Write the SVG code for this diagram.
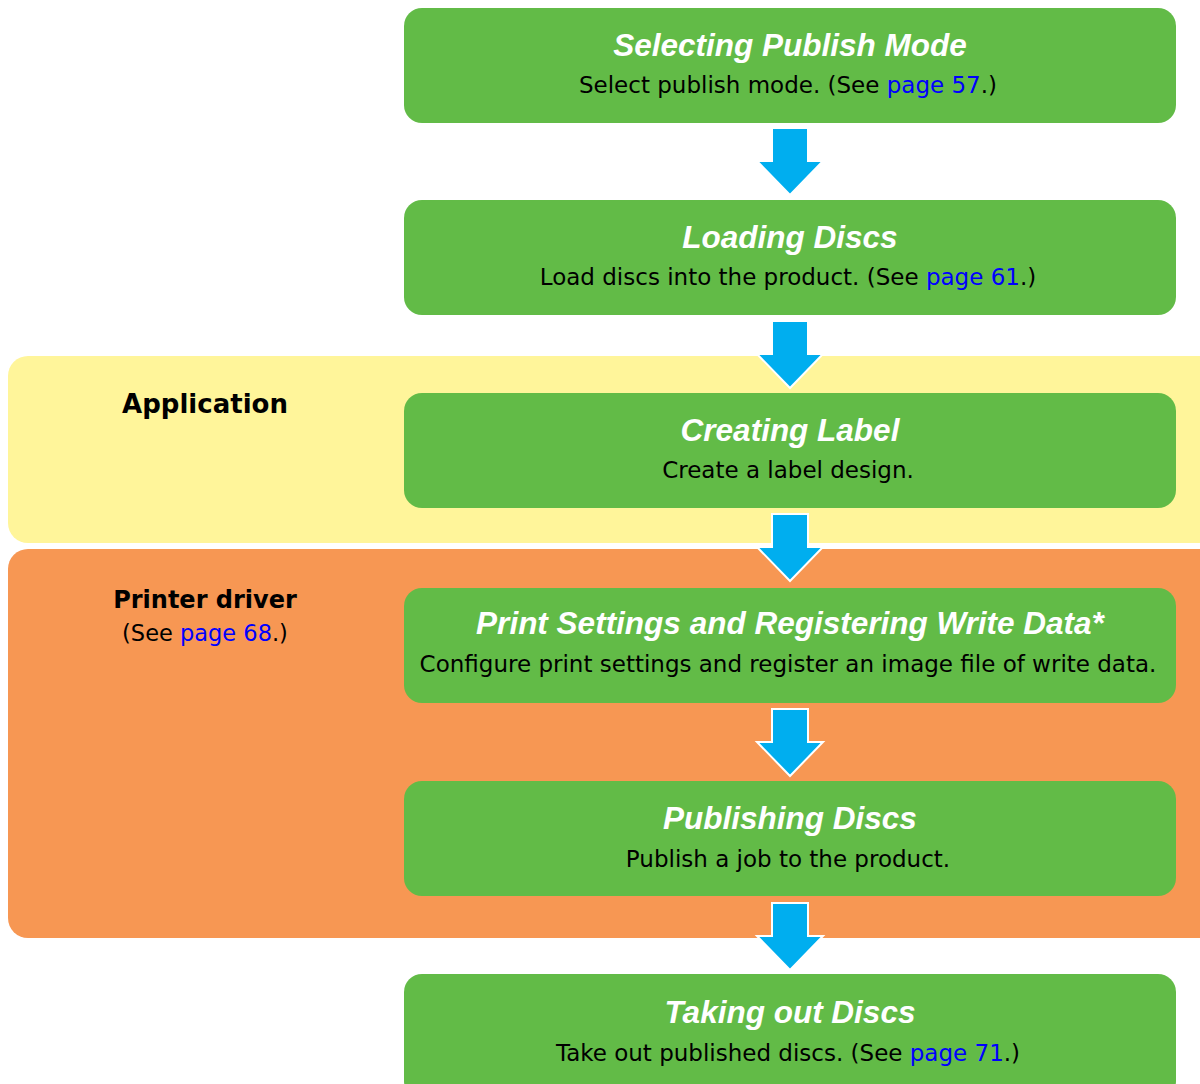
<svg xmlns="http://www.w3.org/2000/svg" width="1200" height="1084" viewBox="0 0 1200 1084">
<style>
.box{fill:#62bb47;}
.t{font-family:"Liberation Sans",Arial,sans-serif;font-size:31.5px;font-weight:bold;font-style:italic;fill:#fff;text-anchor:middle;}
.s{font-family:"DejaVu Sans",sans-serif;font-size:23px;fill:#000;text-anchor:middle;}
.lk{fill:#0000ff;}
.lab{font-family:"DejaVu Sans",sans-serif;font-size:26px;font-weight:bold;fill:#000;text-anchor:middle;}
.arr{fill:#00aeef;stroke:#fff;stroke-width:2;}
</style>
<defs>
<path id="arrow" d="M-18,0 H18 V33 H33 L0,67 L-33,33 H-18 Z"/>
</defs>
<rect width="1200" height="1084" fill="#fff"/>
<g id="band-application">
<rect x="8" y="356" width="1212" height="187" rx="20" fill="#fff59a"/>
<text class="lab" x="205" y="413">Application</text>
</g>
<g id="band-printer-driver">
<rect x="8" y="549" width="1212" height="389" rx="20" fill="#f79753"/>
<text class="lab" x="205" y="608" style="font-size:24px">Printer driver</text>
<text class="s" x="205" y="641" style="font-size:22.5px">(See <tspan class="lk">page 68</tspan>.)</text>
</g>
<g id="node1">
<rect class="box" x="404" y="8" width="772" height="115" rx="18"/>
<text class="t" x="790" y="56">Selecting Publish Mode</text>
<text class="s" x="788" y="93">Select publish mode. (See <tspan class="lk">page 57</tspan>.)</text>
</g>
<g id="node2">
<rect class="box" x="404" y="200" width="772" height="115" rx="18"/>
<text class="t" x="790" y="248">Loading Discs</text>
<text class="s" x="788" y="285">Load discs into the product. (See <tspan class="lk">page 61</tspan>.)</text>
</g>
<g id="node3">
<rect class="box" x="404" y="393" width="772" height="115" rx="18"/>
<text class="t" x="790" y="441">Creating Label</text>
<text class="s" x="788" y="478">Create a label design.</text>
</g>
<g id="node4">
<rect class="box" x="404" y="588" width="772" height="115" rx="18"/>
<text class="t" x="790" y="634">Print Settings and Registering Write Data*</text>
<text class="s" x="788" y="672">Configure print settings and register an image file of write data.</text>
</g>
<g id="node5">
<rect class="box" x="404" y="781" width="772" height="115" rx="18"/>
<text class="t" x="790" y="829">Publishing Discs</text>
<text class="s" x="788" y="867">Publish a job to the product.</text>
</g>
<g id="node6">
<rect class="box" x="404" y="974" width="772" height="125" rx="18"/>
<text class="t" x="790" y="1023">Taking out Discs</text>
<text class="s" x="788" y="1061">Take out published discs. (See <tspan class="lk">page 71</tspan>.)</text>
</g>
<g id="connectors">
<use href="#arrow" class="arr" x="790" y="128"/>
<use href="#arrow" class="arr" x="790" y="321"/>
<use href="#arrow" class="arr" x="790" y="514"/>
<use href="#arrow" class="arr" x="790" y="709"/>
<use href="#arrow" class="arr" x="790" y="903"/>
</g>
</svg>
